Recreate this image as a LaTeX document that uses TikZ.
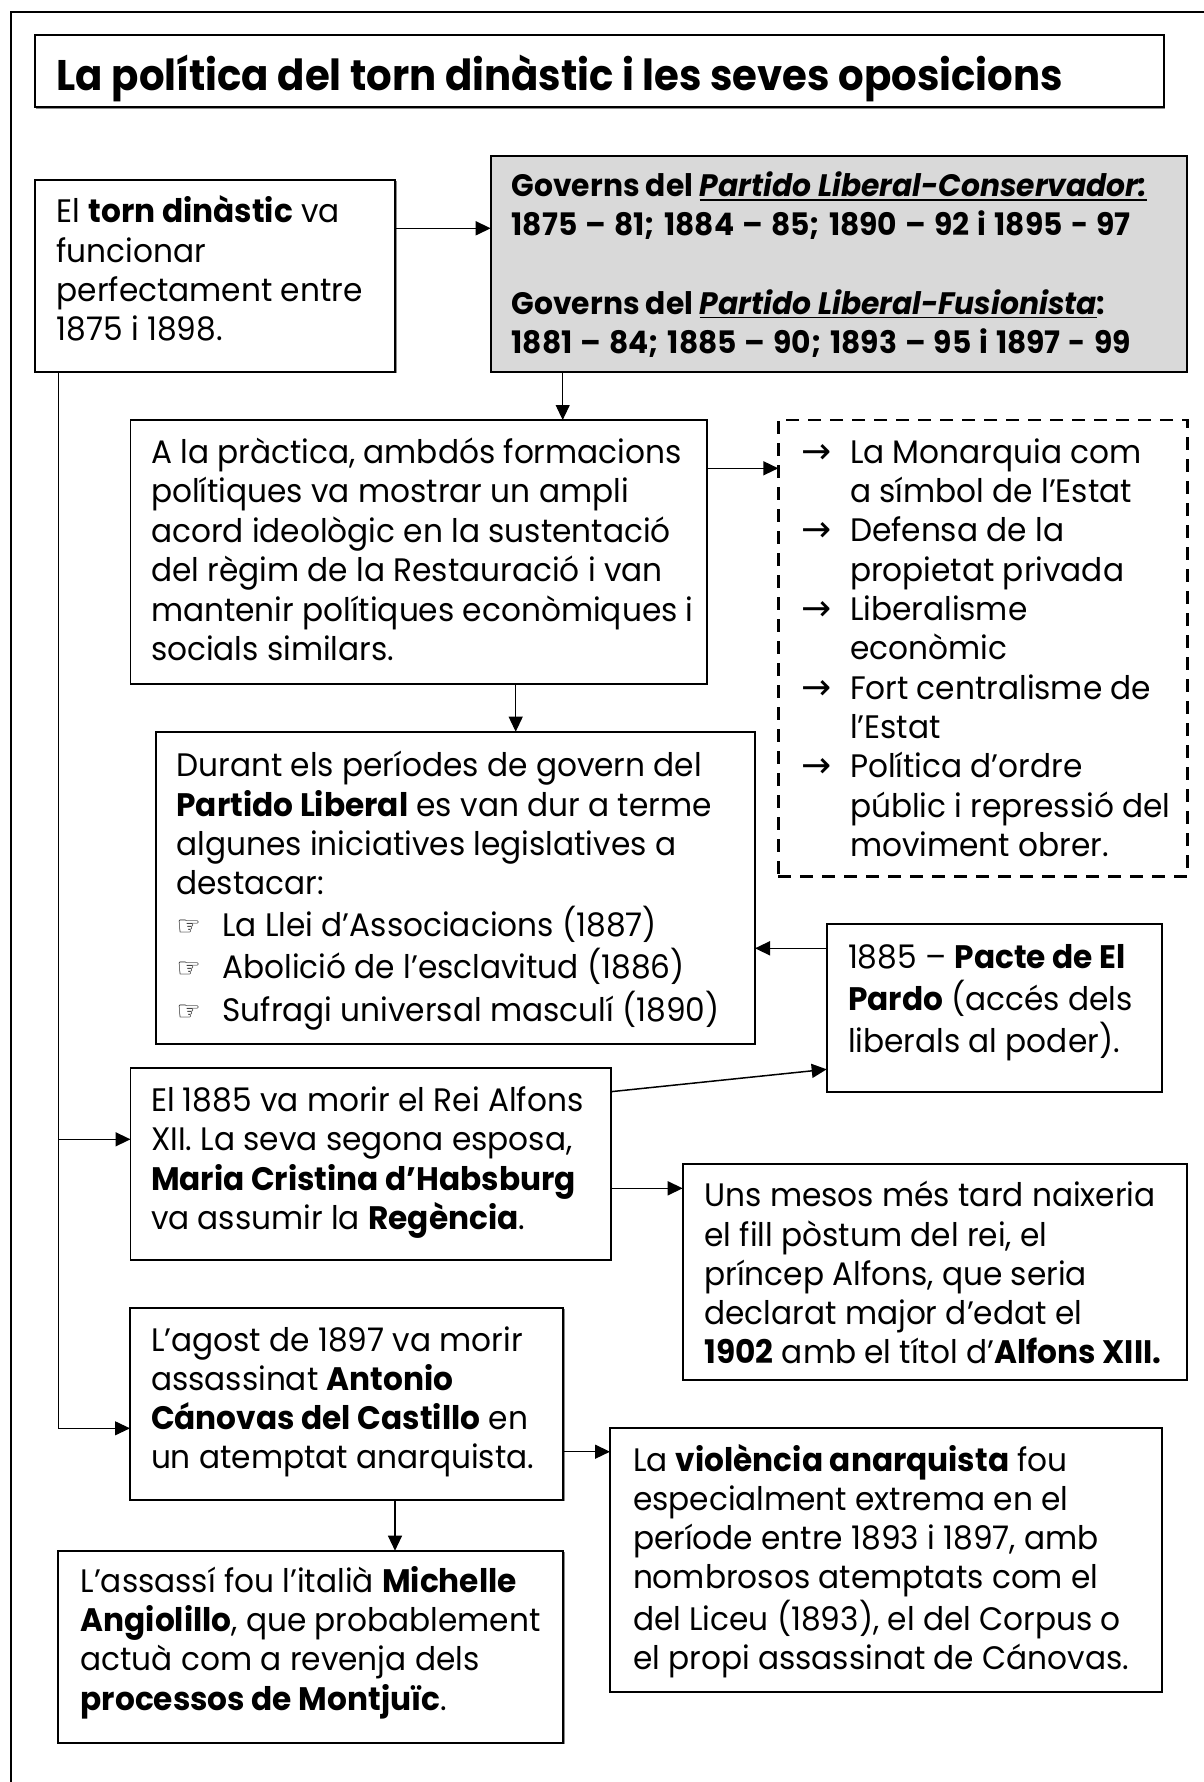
\documentclass[tikz,border=0pt]{standalone}
\usepackage{fontspec}
\setmainfont{Poppins}[FakeStretch=0.96]
\newfontfamily\titlefont{Poppins}[FakeStretch=0.94]
\newfontfamily\symfont{DejaVu Sans}
\usetikzlibrary{arrows.meta,fit,shadows}
\definecolor{lgray}{RGB}{217,217,217}
\newcommand\lines[1]{\begin{tabular}[t]{@{}l@{}}#1\end{tabular}}
\newcommand\bodyf{\fontsize{32.5}{39.3}\selectfont}
\newcommand\ul[1]{\setbox0\hbox{#1}\rlap{\rule[-4pt]{\wd0}{1.8pt}}\box0}
\newcommand\arw{\makebox[48.3pt][l]{\symfont\fontsize{36}{36}\selectfont →}}
\newcommand\hand{\makebox[46pt][l]{\raisebox{1pt}{\symfont\fontsize{27}{27}\selectfont ☞}}}
\newcommand\ind{\hspace*{48.3pt}}
\newcommand\yrs[1]{\makebox[619pt][s]{#1}}
\tikzset{
  x=1pt, y=-1pt,
  box/.style={draw, line width=1.8pt, fill=white, inner sep=0pt, outer sep=0pt,
    drop shadow={shadow xshift=1.3pt, shadow yshift=-1.3pt, fill=black!45, opacity=1}},
  graybox/.style={box, fill=lgray},
  dashbox/.style={draw, line width=2.5pt, dash pattern=on 13pt off 9pt, inner sep=0pt, outer sep=0pt},
  txt/.style={anchor=base west, inner sep=0pt, outer sep=0pt, font=\bodyf},
  arr/.style={-{Triangle[length=15pt,width=14pt]}, line width=1.5pt},
  tarr/.style={-{Triangle[length=15pt,width=14pt]}, line width=1.1pt},
}
\begin{document}
\begin{tikzpicture}
\useasboundingbox (0,0) rectangle (1203,1782);
% outer frame
\draw[line width=2.3pt] (10.7,12) rectangle (1230,1800);

% boxes
\node[box, fit={(34.7,35.3) (1164,107.3)}] (T) {};
\node[box, fit={(34.7,180) (395.3,372)}] (A) {};
\node[graybox, fit={(490.7,155.7) (1187,371.7)}] (B) {};
\node[box, fit={(130.5,420) (706.7,684)}] (C) {};
\node[dashbox, fit={(778.3,420) (1187.3,876.7)}] (D) {};
\node[box, fit={(156,731.7) (755,1044)}] (E) {};
\node[box, fit={(826.7,924) (1162,1091.7)}] (F) {};
\node[box, fit={(130.5,1068.3) (610.7,1260)}] (G) {};
\node[box, fit={(682.7,1164.3) (1187,1380)}] (H) {};
\node[box, fit={(130,1308) (563.3,1500)}] (I) {};
\node[box, fit={(610,1428.3) (1162,1692)}] (J) {};
\node[box, fit={(58.3,1550.7) (563.3,1742.7)}] (K) {};

% texts
\node[txt, font=\titlefont\fontsize{42.8}{50}\selectfont\bfseries] (tT) at (56.7,90.7)
  {La política del torn dinàstic i les seves oposicions};
\node[txt] (tA) at (56.7,222.7) {\lines{El \textbf{torn dinàstic} va\\ funcionar\\ perfectament entre\\ 1875 i 1898.}};
\node[txt, font=\fontsize{31}{39.2}\selectfont\bfseries] (tB) at (511.7,196.7)
  {\lines{Governs del \ul{\textit{Partido Liberal-Conservador:}}\\
   \yrs{1875 – 81; 1884 – 85; 1890 – 92 i 1895 - 97}\\ \\
   Governs del \ul{\textit{Partido Liberal-Fusionista}}:\\
   \yrs{1881 – 84; 1885 – 90; 1893 – 95 i 1897 - 99}}};
\node[txt, font=\fontsize{32.5}{39.4}\selectfont] (tC) at (151,463.5)
  {\lines{A la pràctica, ambdós formacions\\ polítiques va mostrar un ampli\\ acord ideològic en la sustentació\\ del règim de la Restauració i van\\ mantenir polítiques econòmiques i\\ socials similars.}};
\node[txt] (tD) at (801.7,463.3)
  {\lines{\arw La Monarquia com\\ \ind a símbol de l’Estat\\ \arw Defensa de la\\ \ind propietat privada\\ \arw Liberalisme\\ \ind econòmic\\ \arw Fort centralisme de\\ \ind l’Estat\\ \arw Política d’ordre\\ \ind públic i repressió del\\ \ind moviment obrer.}};
\node[txt] (tE) at (176.5,776.7)
  {\lines{Durant els períodes de govern del\\ \textbf{Partido Liberal} es van dur a terme\\ algunes iniciatives legislatives a\\ destacar:\\ \hand La Llei d’Associacions (1887)\\ \hand Abolició de l’esclavitud (1886)\\ \hand Sufragi universal masculí (1890)}};
\node[txt, font=\fontsize{32.5}{39.2}\selectfont] (tF) at (848,968.3)
  {\lines{1885 – \textbf{Pacte de El}\\ \textbf{Pardo} (accés dels\\ liberals al poder).}};
\node[txt, font=\fontsize{32.5}{39.2}\selectfont] (tG) at (151,1111.7)
  {\lines{El 1885 va morir el Rei Alfons\\ XII. La seva segona esposa,\\ \textbf{Maria Cristina d’Habsburg}\\ va assumir la \textbf{Regència}.}};
\node[txt] (tH) at (704.5,1206.7)
  {\lines{Uns mesos més tard naixeria\\ el fill pòstum del rei, el\\ príncep Alfons, que seria\\ declarat major d’edat el\\ \textbf{1902} amb el títol d’\textbf{Alfons XIII.}}};
\node[txt, font=\fontsize{32.5}{38.9}\selectfont] (tI) at (151,1351.7)
  {\lines{L’agost de 1897 va morir\\ assassinat \textbf{Antonio}\\ \textbf{Cánovas del Castillo} en\\ un atemptat anarquista.}};
\node[txt, font=\fontsize{32.5}{38.9}\selectfont] (tJ) at (633,1471.7)
  {\lines{La \textbf{violència anarquista} fou\\ especialment extrema en el\\ període entre 1893 i 1897, amb\\ nombrosos atemptats com el\\ del Liceu (1893), el del Corpus o\\ el propi assassinat de Cánovas.}};
\node[txt, font=\fontsize{32.5}{39.1}\selectfont] (tK) at (80.6,1592.7)
  {\lines{L’assassí fou l’italià \textbf{Michelle}\\ \textbf{Angiolillo}, que probablement\\ actuà com a revenja dels\\ \textbf{processos de Montjuïc}.}};

% helper coordinates for connector positions
\coordinate (ab) at (0,228.3);
\coordinate (bc) at (562.7,0);
\coordinate (cd) at (0,468.3);
\coordinate (ce) at (515.7,0);
\coordinate (fe) at (0,948.3);
\coordinate (gf1) at (0,1091.7);
\coordinate (gf2) at (0,1069.3);
\coordinate (gh) at (0,1188.3);
\coordinate (tr) at (58.3,0);
\coordinate (tg) at (0,1139.3);
\coordinate (ti) at (0,1428.3);
\coordinate (ij) at (0,1451.7);
\coordinate (ik) at (395,0);

% connectors
\draw[arr] (A.east |- ab) -- (B.west |- ab);
\draw[tarr] (B.south -| bc) -- (C.north -| bc);
\draw[arr] (C.east |- cd) -- (D.west |- cd);
\draw[tarr] (C.south -| ce) -- (E.north -| ce);
\draw[arr] (F.west |- fe) -- (E.east |- fe);
\draw[arr] (G.east |- gf1) -- (F.west |- gf2);
\draw[arr] (G.east |- gh) -- (H.west |- gh);
\draw[tarr] (A.south -| tr) |- (I.west |- ti);
\draw[arr] (tr |- tg) -- (G.west |- tg);
\draw[arr] (I.east |- ij) -- (J.west |- ij);
\draw[tarr] (I.south -| ik) -- (K.north -| ik);
\end{tikzpicture}
\end{document}
